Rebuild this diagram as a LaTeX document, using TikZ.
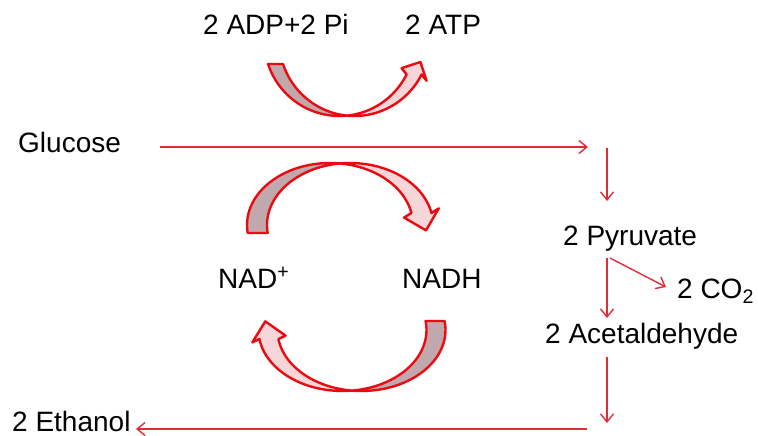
\documentclass[tikz,border=0pt]{standalone}
\usepackage{fontspec}
\setmainfont{Liberation Sans}
\usetikzlibrary{arrows.meta}
\definecolor{flowred}{RGB}{222,45,55}
\definecolor{bandred}{RGB}{235,10,15}
\definecolor{darkfill}{RGB}{192,168,172}
\definecolor{lightfill}{RGB}{246,214,216}
\tikzset{
  lbl/.style={anchor=base west, inner sep=0pt, font=\fontsize{28}{34}\selectfont},
  flow/.style={draw=flowred, line width=1.4pt, -{Straight Barb[length=8pt,width=13pt]}},
  darkpart/.style={fill=darkfill, draw=bandred, line width=2.4pt, line join=round},
  lightpart/.style={fill=lightfill, draw=bandred, line width=2.4pt, line join=round}
}
% #1 a, #2 b, #3 w, #4 tail angle, #5 head angle, #6 head half width, #7 head length
\newcommand\bentarrow[7]{%
  \pgfmathsetmacro\BAa{#1}\pgfmathsetmacro\BAb{#2}\pgfmathsetmacro\BAw{#3}%
  \pgfmathsetmacro\BAtt{#4}\pgfmathsetmacro\BAth{#5}%
  \pgfmathsetmacro\BAi{270+asin(\BAw/(2*\BAa))}%
  \pgfmathsetmacro\BAj{270-asin(\BAw/(2*\BAa))}%
  \pgfmathsetmacro\BAmx{\BAw/2+\BAa*cos(\BAth)}%
  \pgfmathsetmacro\BAmy{\BAb*sin(\BAth)}%
  \pgfmathsetmacro\BAtx{-\BAa*sin(\BAth)}%
  \pgfmathsetmacro\BAty{\BAb*cos(\BAth)}%
  \pgfmathsetmacro\BAl{veclen(\BAtx,\BAty)}%
  \pgfmathsetmacro\BAux{\BAtx/\BAl}\pgfmathsetmacro\BAuy{\BAty/\BAl}%
  \filldraw[lightpart] plot[domain=\BAi:\BAth,samples=30] ({\BAa*cos(\x)},{\BAb*sin(\x)})
     -- ({\BAmx-#6*\BAuy},{\BAmy+#6*\BAux})
     -- ({\BAmx+#7*\BAux},{\BAmy+#7*\BAuy})
     -- ({\BAmx+#6*\BAuy},{\BAmy-#6*\BAux})
     -- plot[domain=\BAth:\BAj,samples=30] ({\BAw+\BAa*cos(\x)},{\BAb*sin(\x)}) -- cycle;
  \filldraw[darkpart] plot[domain=\BAtt:\BAi,samples=30] ({\BAa*cos(\x)},{\BAb*sin(\x)})
     -- plot[domain=\BAj:\BAtt,samples=30] ({\BAw+\BAa*cos(\x)},{\BAb*sin(\x)}) -- cycle;
}
\begin{document}
\begin{tikzpicture}[x=1pt,y=-1pt]
\useasboundingbox (0,0) rectangle (758,436);

% labels
\node[lbl] (adp)  at (203,35)  {2 ADP+2 Pi};
\node[lbl] (atp)  at (405,35)  {2 ATP};
\node[lbl] (glc)  at (18,152)  {Glucose};
\node[lbl] (nad)  at (218,288) {NAD\textsuperscript{+}};
\node[lbl] (nadh) at (402,288) {NADH};
\node[lbl] (pyr)  at (563,245) {2 Pyruvate};
\node[lbl] (co2)  at (677,298) {2 CO\textsubscript{2}};
\node[lbl] (acet) at (545,343) {2 Acetaldehyde};
\node[lbl] (eth)  at (12,431)  {2 Ethanol};

% connector end points
\coordinate (g1) at (160,147);
\coordinate (g2) at (588,147);
\coordinate (p1) at (607,148);
\coordinate (p2) at (607,201);
\coordinate (a1) at (607,258);
\coordinate (a2) at (607,318);
\coordinate (c1) at (610,258);
\coordinate (c2) at (666,287);
\coordinate (e1) at (607,357);
\coordinate (e2) at (607,423);
\coordinate (h1) at (587,429);
\coordinate (h2) at (136,429);

\draw[flow] (g1) -- (g2);
\draw[flow] (p1) -- (p2);
\draw[flow] (a1) -- (a2);
\draw[flow] (c1) -- (c2);
\draw[flow] (e1) -- (e2);
\draw[flow] (h1) -- (h2);

% curved block arrows
\begin{scope}[shift={(339.5,40)}, yscale=-1]
  \bentarrow{75.3}{76}{15}{198.4}{333}{14}{14}
\end{scope}
\begin{scope}[shift={(330,225)}]
  \bentarrow{83}{62}{20}{172.6}{348.8}{18}{18}
\end{scope}
\begin{scope}[shift={(361.5,330)}, xscale=-1, yscale=-1]
  \bentarrow{84}{61}{19}{171.5}{351.5}{17}{18}
\end{scope}
\end{tikzpicture}
\end{document}
